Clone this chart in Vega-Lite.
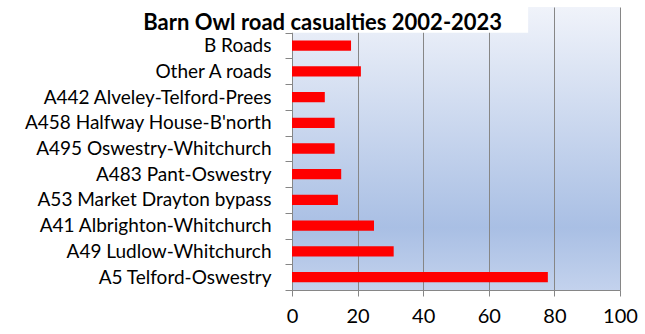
{
  "$schema": "https://vega.github.io/schema/vega-lite/v6.json",
  "width": 328,
  "height": 283,
  "autosize": {"type": "none"},
  "padding": {"left": 292, "top": 7, "right": 25, "bottom": 44},
  "background": "white",
  "title": {
    "text": "Barn Owl road casualties 2002-2023",
    "font": "Lato",
    "fontSize": 22,
    "fontWeight": "bold",
    "color": "black",
    "anchor": "middle",
    "frame": "bounds",
    "baseline": "middle",
    "offset": 0,
    "dy": 47,
    "dx": -8,
    "zindex": 2
  },
  "data": {
    "values": [
      {"road": "B Roads", "casualties": 18},
      {"road": "Other A roads", "casualties": 21},
      {"road": "A442 Alveley-Telford-Prees", "casualties": 10},
      {"road": "A458 Halfway House-B'north", "casualties": 13},
      {"road": "A495 Oswestry-Whitchurch", "casualties": 13},
      {"road": "A483 Pant-Oswestry", "casualties": 15},
      {"road": "A53 Market Drayton bypass", "casualties": 14},
      {"road": "A41 Albrighton-Whitchurch", "casualties": 25},
      {"road": "A49 Ludlow-Whitchurch", "casualties": 31},
      {"road": "A5 Telford-Oswestry", "casualties": 78}
    ]
  },
  "layer": [
    {
      "mark": {"type": "bar", "color": "#ff0000", "height": {"band": 0.4}},
      "encoding": {
        "y": {
          "field": "road",
          "type": "nominal",
          "scale": {
            "domain": [" ", "B Roads", "Other A roads", "A442 Alveley-Telford-Prees", "A458 Halfway House-B'north", "A495 Oswestry-Whitchurch", "A483 Pant-Oswestry", "A53 Market Drayton bypass", "A41 Albrighton-Whitchurch", "A49 Ludlow-Whitchurch", "A5 Telford-Oswestry"],
            "paddingInner": 0,
            "paddingOuter": 0
          },
          "axis": {
            "title": null,
            "tickBand": "extent",
            "tickSize": 7,
            "tickColor": "#868686",
            "domainColor": "#868686",
            "labelPadding": 14,
            "labelFont": "Lato",
            "labelFontSize": 19,
            "labelLimit": 400,
            "labelColor": "black",
            "grid": false
          }
        },
        "x": {
          "field": "casualties",
          "type": "quantitative",
          "scale": {"domain": [0, 100], "nice": false},
          "axis": {
            "title": null,
            "values": [0, 20, 40, 60, 80, 100],
            "tickSize": 6,
            "tickColor": "#868686",
            "domainColor": "#868686",
            "gridColor": "#868686",
            "gridOpacity": 1,
            "labelPadding": 10,
            "labelFont": "Lato",
            "labelFontSize": 20,
            "labelColor": "black",
            "labelFlush": false
          }
        }
      }
    },
    {
      "data": {"values": [{"box": "title"}]},
      "mark": {"type": "rect", "color": "white", "opacity": 1},
      "encoding": {
        "x": {"datum": -53, "type": "quantitative"},
        "x2": {"datum": 72},
        "y": {"datum": " ", "type": "nominal"}
      }
    }
  ],
  "config": {
    "view": {
      "stroke": null,
      "fill": {
        "gradient": "linear",
        "x1": 0, "y1": 0, "x2": 0, "y2": 1,
        "stops": [
          {"offset": 0, "color": "#f0f3fa"},
          {"offset": 0.78, "color": "#a9bfe4"},
          {"offset": 1, "color": "#c3d2ed"}
        ]
      }
    }
  }
}
